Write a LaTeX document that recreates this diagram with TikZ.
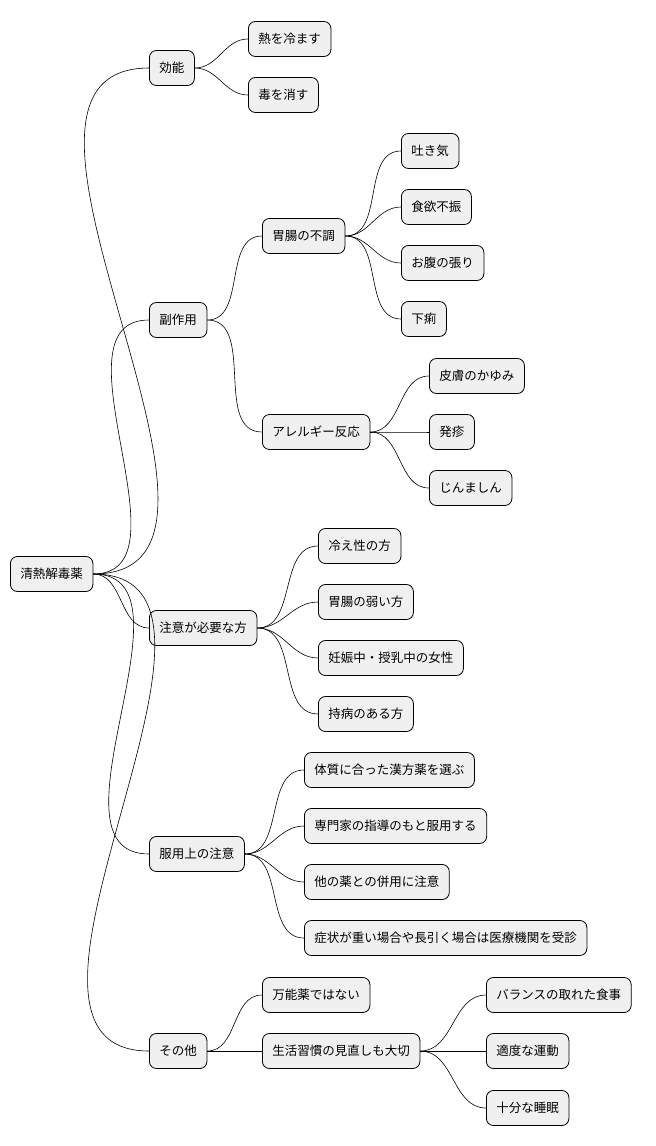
\documentclass[tikz,border=0pt]{standalone}
\usepackage{fontspec}
\setmainfont{Noto Sans CJK JP}
\begin{document}
\begin{tikzpicture}[x=1pt,y=-1pt,
  nd/.style={draw=black,line width=0.8pt,fill=black!6,rounded corners=7pt,minimum height=35pt,inner xsep=10pt,anchor=west,font=\fontsize{12.5}{14}\selectfont},
  ln/.style={line width=0.6pt,out=0,in=180}]
\useasboundingbox (0,0) rectangle (656,1146);
\node[nd] (r) at (10,574) {清熱解毒薬};
\node[nd] (a) at (149,68) {効能};
\node[nd] (a1) at (248,39) {熱を冷ます};
\node[nd] (a2) at (248,95) {毒を消す};
\node[nd] (b) at (149,320) {副作用};
\node[nd] (b1) at (262,236) {胃腸の不調};
\node[nd] (b11) at (401,151) {吐き気};
\node[nd] (b12) at (401,207) {食欲不振};
\node[nd] (b13) at (401,263) {お腹の張り};
\node[nd] (b14) at (401,319) {下痢};
\node[nd] (b2) at (262,432) {アレルギー反応};
\node[nd] (b21) at (429,376) {皮膚のかゆみ};
\node[nd] (b22) at (429,432) {発疹};
\node[nd] (b23) at (429,488) {じんましん};
\node[nd] (c) at (149,628) {注意が必要な方};
\node[nd] (c1) at (318,546) {冷え性の方};
\node[nd] (c2) at (318,602) {胃腸の弱い方};
\node[nd] (c3) at (318,658) {妊娠中・授乳中の女性};
\node[nd] (c4) at (318,714) {持病のある方};
\node[nd] (d) at (149,854) {服用上の注意};
\node[nd] (d1) at (304,770) {体質に合った漢方薬を選ぶ};
\node[nd] (d2) at (304,826) {専門家の指導のもと服用する};
\node[nd] (d3) at (304,882) {他の薬との併用に注意};
\node[nd] (d4) at (304,938) {症状が重い場合や長引く場合は医療機関を受診};
\node[nd] (e) at (149,1051) {その他};
\node[nd] (e1) at (262,995) {万能薬ではない};
\node[nd] (e2) at (262,1051) {生活習慣の見直しも大切};
\node[nd] (e21) at (486,995) {バランスの取れた食事};
\node[nd] (e22) at (486,1051) {適度な運動};
\node[nd] (e23) at (486,1108) {十分な睡眠};
\foreach \p/\c in {r/a,r/b,r/c,r/d,r/e,a/a1,a/a2,b/b1,b/b2,b1/b11,b1/b12,b1/b13,b1/b14,b2/b21,b2/b22,b2/b23,c/c1,c/c2,c/c3,c/c4,d/d1,d/d2,d/d3,d/d4,e/e1,e/e2,e2/e21,e2/e22,e2/e23}
  \draw[ln] (\p.east) to (\c.west);
\end{tikzpicture}
\end{document}
